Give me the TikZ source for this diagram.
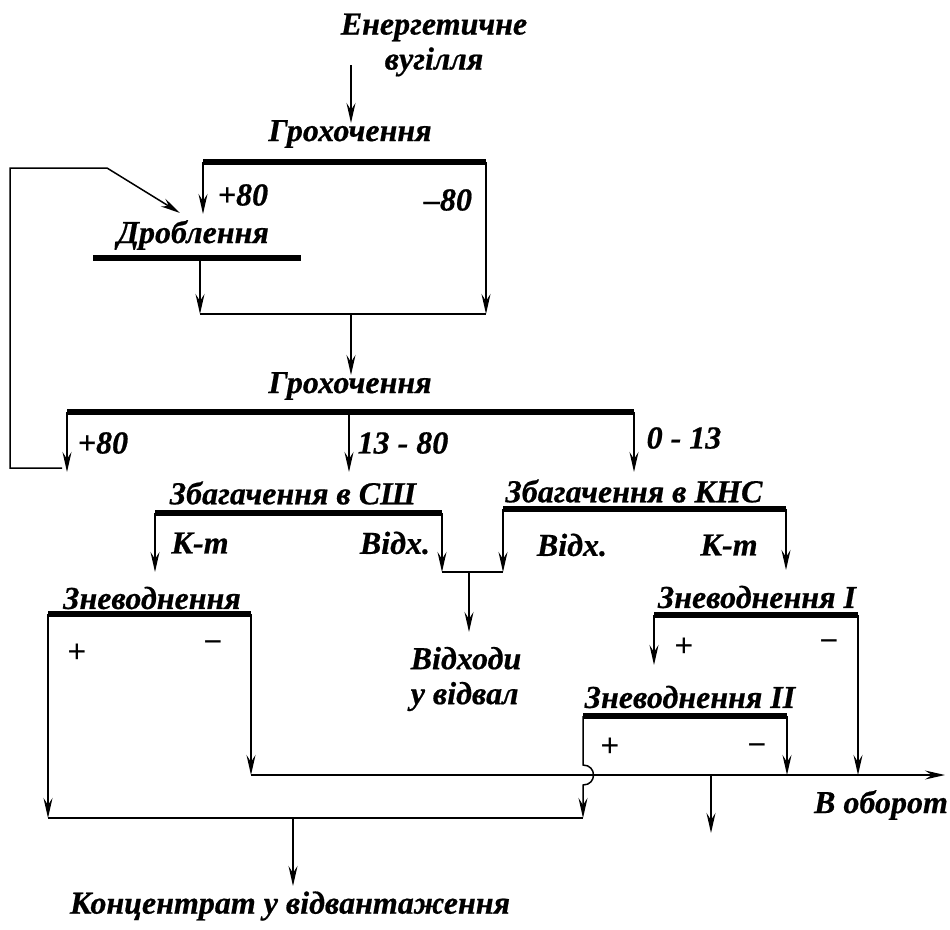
\documentclass[tikz,border=0pt]{standalone}
\usepackage{fontspec}
\setmainfont{Liberation Serif}
\newfontfamily\lblfont{Liberation Serif}[UprightFont=* Bold Italic, FakeBold=0.6]
\newfontfamily\signfont{Liberation Sans}
\usetikzlibrary{arrows.meta}

\begin{document}
\begin{tikzpicture}[
    x=1pt, y=-1pt,
    >={Stealth[length=20pt, width=9pt, inset=7pt]},
    lbl/.style={font=\fontsize{32}{35}\selectfont\lblfont, inner sep=0pt, align=center},
    sgn/.style={font=\fontsize{32}{32}\selectfont\signfont, inner sep=0pt},
    bar/.style={line width=6pt},
    flow/.style={line width=1.5pt}
]
  \useasboundingbox (0,0) rectangle (950,929);

  % ===== написи =====
  \node[lbl] (src) at (434,45) {Енергетичне\\вугілля};
  \node[lbl] (groh1) at (350,134) {Грохочення};
  \node[lbl] (p80a) at (243,195) {+80};
  \node[lbl] (m80) at (448,200) {–80};
  \node[lbl] (drob) at (193,235) {Дроблення};
  \node[lbl] (groh2) at (350,386) {Грохочення};
  \node[lbl] (p80b) at (103,443) {+80};
  \node[lbl] (f1380) at (403,443) {13 - 80};
  \node[lbl] (f013) at (684,438) {0 - 13};
  \node[lbl] (zsh) at (293,493) {Збагачення в СШ};
  \node[lbl] (zkns) at (634,491) {Збагачення в КНС};
  \node[lbl] (kt1) at (200,543) {К-т};
  \node[lbl] (vid1) at (395,543) {Відх.};
  \node[lbl] (vid2) at (572,545) {Відх.};
  \node[lbl] (kt2) at (729,545) {К-т};
  \node[lbl] (zn) at (152,598) {Зневоднення};
  \node[lbl] (zn1) at (757,597) {Зневоднення I};
  \node[lbl, align=left] (waste) at (466,679) {Відходи\\у відвал};
  \node[lbl] (zn2) at (690,697) {Зневоднення II};
  \node[lbl] (obor) at (881,805) {В оборот};
  \node[lbl] (conc) at (290,906) {Концентрат у відвантаження};
  % знаки + / - під зневодненням
  \foreach \n/\x/\y/\s in {pa/77/653/+, ma/213/647/−, pb/684/647/+, mb/829/646/−, pc/610/747/+, mc/757/750/−}
    \node[sgn] (\n) at (\x,\y) {\s};

  % ===== грохочення і дроблення =====
  \coordinate (feed) at (351,65);
  \coordinate (feedend) at (351,123);
  \coordinate (s1w) at (203,162);
  \coordinate (s1e) at (486,162);
  \coordinate (crin) at (203,214);
  \coordinate (crw) at (93,258);
  \coordinate (cre) at (301,258);
  \coordinate (crout) at (200,258);
  \coordinate (j1w) at (200,314);
  \coordinate (j1m) at (351,314);
  \coordinate (j1e) at (486,314);
  \coordinate (s2in) at (351,375);
  \draw[bar] (s1w) -- (s1e);
  \draw[bar] (crw) -- (cre);
  \draw[flow,->] (feed) -- (feedend);
  \draw[flow,->] (s1w) -- (crin);
  \draw[flow,->] (s1e) -- (j1e);
  \draw[flow,->] (crout) -- (j1w);
  \draw[flow] (j1w) -- (j1e);
  \draw[flow,->] (j1m) -- (s2in);

  % ===== грохочення 2 і повернення +80 =====
  \coordinate (s2w) at (67,412);
  \coordinate (s2m) at (349,412);
  \coordinate (s2e) at (634,412);
  \coordinate (o80) at (67,472);
  \coordinate (shin) at (349,472);
  \coordinate (knin) at (634,472);
  \coordinate (rec1) at (62,468);
  \coordinate (rec2) at (10,468);
  \coordinate (rec3) at (10,168);
  \coordinate (rec4) at (107,168);
  \coordinate (rec5) at (180,213);
  \draw[bar] (s2w) -- (s2e);
  \draw[flow,->] (s2w) -- (o80);
  \draw[flow,->] (s2m) -- (shin);
  \draw[flow,->] (s2e) -- (knin);
  \draw[flow,->] (rec1) -- (rec2) -- (rec3) -- (rec4) -- (rec5);

  % ===== збагачення =====
  \coordinate (shw) at (155,513);
  \coordinate (she) at (442,513);
  \coordinate (knw) at (503,509);
  \coordinate (kne) at (786,509);
  \coordinate (ktout) at (155,572);
  \coordinate (w1) at (442,572);
  \coordinate (w2) at (503,572);
  \coordinate (wm) at (469,572);
  \coordinate (wend) at (469,632);
  \coordinate (z1in) at (786,570);
  \draw[bar] (shw) -- (she);
  \draw[bar] (knw) -- (kne);
  \draw[flow,->] (shw) -- (ktout);
  \draw[flow,->] (she) -- (w1);
  \draw[flow,->] (knw) -- (w2);
  \draw[flow] (w1) -- (w2);
  \draw[flow,->] (wm) -- (wend);
  \draw[flow,->] (kne) -- (z1in);

  % ===== зневоднення =====
  \coordinate (zw) at (48,614);
  \coordinate (ze) at (251,614);
  \coordinate (z1w) at (654,615);
  \coordinate (z1e) at (858,615);
  \coordinate (z2w) at (583,716);
  \coordinate (z2e) at (787,716);
  \coordinate (z2in) at (654,665);
  \coordinate (cl) at (48,818);
  \coordinate (cr) at (583,818);
  \coordinate (cm) at (293,818);
  \coordinate (cout) at (293,886);
  \coordinate (rl) at (251,775);
  \coordinate (rr) at (945,775);
  \coordinate (rm) at (711,775);
  \coordinate (rdown) at (711,833);
  \coordinate (z1out) at (858,775);
  \coordinate (z2out) at (787,775);
  \coordinate (hop1) at (583,765);
  \coordinate (hop2) at (583,785);
  \draw[bar] (zw) -- (ze);
  \draw[bar] (z1w) -- (z1e);
  \draw[bar] (z2w) -- (z2e);
  \draw[flow,->] (zw) -- (cl);
  \draw[flow,->] (ze) -- (rl);
  \draw[flow,->] (z1w) -- (z2in);
  \draw[flow,->] (z1e) -- (z1out);
  \draw[flow,->] (z2e) -- (z2out);
  \draw[flow,->] (z2w) -- (hop1) .. controls (597,765) and (597,785) .. (hop2) -- (cr);
  \draw[flow,->] (rl) -- (rr);
  \draw[flow,->] (rm) -- (rdown);
  \draw[flow] (cl) -- (cr);
  \draw[flow,->] (cm) -- (cout);
\end{tikzpicture}
\end{document}
